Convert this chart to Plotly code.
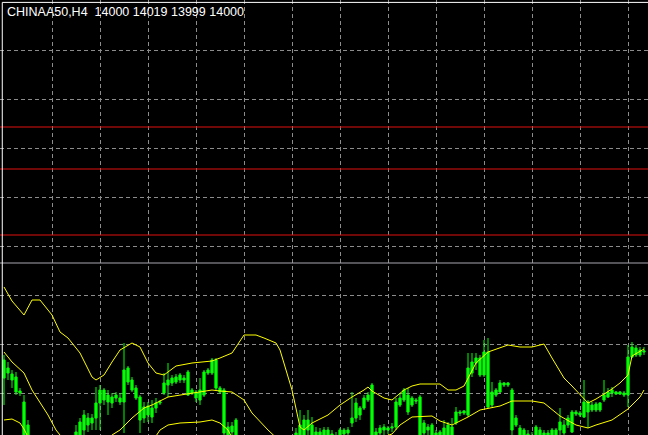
import plotly.graph_objects as go

symbol_title = "CHINAA50,H4  14000 14019 13999 14000"

# candle OHLC (H4 bars, oldest -> newest)
opens = [13992,13979,13978,13975,13961,13950,13927,13904,13897,13887,13874,13877,13867,13860,13867,13876,13884,13897,13907,13914,
         13922,13934,13929,13934,13949,13962,13957,13949,13954,13954,13950,13984,13972,13964,13955,13934,13946,13935,13944,13949,
         13959,13967,13974,13970,13972,13974,13980,13959,13960,13952,13957,13979,13979,13992,13964,13962,13925,13920,13932,13907,
         13892,13882,13872,13864,13862,13857,13852,13855,13862,13867,13874,13884,13894,13904,13912,13932,13922,13927,13920,13912,
         13912,13922,13918,13908,13914,13922,13919,13929,13934,13944,13944,13952,13967,13912,13919,13925,13922,13924,13925,13947,
         13952,13957,13947,13952,13955,13919,13925,13927,13912,13914,13916,13927,13914,13929,13940,13939,13937,13979,13989,13994,
         13977,14000,13947,13957,13960,13969,13967,13962,13927,13924,13922,13918,13916,13912,13922,13919,13916,13912,13912,13922,
         13927,13927,13920,13940,13937,13935,13950,13942,13948,13942,13952,13955,13959,13960,13958,13959,13957,13995,14004,13997,
         14000]
highs = [13997,13990,13982,13980,13964,13957,13932,13912,13902,13892,13887,13882,13872,13874,13882,13892,13902,13914,13927,13934,
         13942,13939,13938,13965,13967,13964,13962,13959,13960,13959,14009,13986,13975,13967,13957,13950,13950,13952,13954,13952,
         13979,13989,13977,13978,13979,13977,13982,13964,13962,13974,13982,13984,13994,13994,13966,13964,13930,13930,13934,13912,
         13897,13887,13877,13872,13867,13862,13864,13872,13877,13884,13892,13902,13912,13924,13942,13937,13942,13935,13925,13924,
         13925,13925,13922,13920,13924,13924,13925,13960,13954,13946,13957,13960,13969,13924,13927,13928,13926,13929,13954,13959,
         13964,13964,13956,13954,13957,13932,13928,13929,13922,13922,13932,13930,13934,13945,13942,13942,13999,13999,13999,13997,
         14012,14014,13970,13964,13972,13970,13970,13964,13937,13927,13924,13922,13920,13927,13925,13922,13922,13924,13924,13944,
         13932,13937,13942,13942,13941,13972,13952,13950,13950,13950,13972,13964,13965,13961,13961,13961,14007,14010,14007,14005,
         14005]
lows = [13947,13972,13964,13957,13956,13902,13892,13884,13874,13864,13862,13857,13847,13852,13857,13867,13877,13887,13900,13907,
        13912,13920,13922,13922,13922,13947,13937,13944,13950,13947,13919,13967,13960,13952,13919,13929,13930,13929,13939,13947,
        13957,13955,13966,13968,13969,13969,13956,13957,13950,13947,13955,13977,13977,13962,13958,13916,13904,13912,13900,13882,
        13870,13857,13852,13847,13842,13840,13844,13849,13854,13860,13867,13877,13887,13897,13904,13907,13916,13907,13902,13906,
        13904,13907,13904,13902,13907,13912,13914,13925,13930,13932,13942,13950,13907,13907,13912,13916,13918,13920,13922,13945,
        13950,13937,13945,13948,13907,13912,13916,13907,13906,13908,13910,13907,13910,13927,13936,13937,13935,13975,13982,13975,
        13975,13944,13945,13955,13959,13965,13965,13917,13925,13907,13906,13902,13900,13907,13910,13907,13912,13907,13907,13912,
        13912,13924,13919,13936,13935,13934,13924,13940,13940,13940,13950,13954,13955,13957,13957,13955,13945,13994,13995,13995,
        13997]
closes = [13974,13984,13972,13960,13959,13907,13902,13892,13882,13872,13882,13862,13857,13870,13877,13886,13897,13907,13920,13930,
          13937,13927,13934,13949,13962,13952,13950,13955,13957,13950,13982,13970,13962,13954,13932,13945,13937,13944,13949,13950,
          13969,13972,13969,13975,13977,13972,13957,13962,13954,13962,13980,13982,13992,13964,13960,13919,13912,13926,13907,13892,
          13877,13867,13860,13854,13850,13847,13859,13867,13872,13880,13887,13897,13907,13919,13927,13912,13932,13912,13910,13920,
          13922,13914,13910,13916,13922,13918,13922,13934,13949,13937,13954,13957,13912,13920,13924,13922,13924,13925,13950,13954,
          13962,13940,13954,13951,13912,13929,13922,13912,13919,13920,13924,13912,13925,13940,13939,13941,13984,13990,13994,13977,
          14000,13945,13960,13962,13969,13967,13969,13922,13934,13912,13912,13908,13906,13925,13914,13912,13919,13922,13922,13930,
          13919,13934,13940,13938,13939,13950,13940,13947,13942,13949,13957,13960,13962,13958,13960,13957,13995,14005,13997,14002,
          14001]
bar_index = list(range(len(closes)))

# Bollinger band readings (bar index, price)
upper_x = [0,2,5,7,9,12,14,16,19,22,23,25,27,29,32,34,36,38,40,43,47,52,54,57,60,63,65,68,69,72,74,75,77,81,84,87,90,91,92,95,
           97,100,102,104,109,111,113,115,118,121,126,129,132,135,137,140,142,145,146,148,152,154,156,157,159,160]
upper_v = [14065,14051,14037,14052,14052,14037,14020,14014,13999,13975,13972,13977,13990,14002,14009,14005,13989,13979,13977,13986,
           13989,13991,13994,13999,14017,14017,14014,14009,14002,13962,13925,13922,13929,13937,13947,13955,13962,13965,13961,13954,
           13952,13962,13966,13968,13968,13962,13962,13966,13989,14000,14007,14005,14005,14008,13994,13974,13966,13954,13949,13953,
           13963,13969,13977,13996,14001,14003]
middle_x = [0,2,5,7,11,13,16,20,24,27,29,32,35,37,41,44,47,49,52,54,57,60,62,66,70,75,80,85,90,97,99,102,107,109,112,116,119,124,
            127,132,135,139,143,146,148,152,156,159,160]
middle_v = [14000,13990,13979,13962,13937,13922,13907,13897,13902,13917,13922,13934,13944,13947,13955,13957,13959,13960,13962,13961,
            13960,13952,13939,13922,13907,13894,13894,13900,13909,13918,13927,13935,13936,13931,13927,13935,13942,13946,13951,13951,
            13949,13936,13927,13924,13927,13932,13943,13955,13962]
lower_x = [0,2,4,5,7,10,15,20,25,30,34,38,39,41,44,47,49,52,54,56,58,62,68,80,90,100,110,120,130,140,150,160]
lower_v = [13932,13933,13929,13923,13907,13882,13862,13852,13867,13887,13907,13916,13922,13927,13929,13930,13930,13932,13929,13922,
           13907,13882,13852,13842,13857,13877,13892,13887,13892,13897,13892,13912]

# horizontal levels drawn on the chart
red_levels = [14225, 14183, 14117]
gray_levels = [14089]

# grid (MT4 pixel grid)
x_grid = list(range(12, 161, 12))
y_grid = [14302, 14253, 14204, 14155, 14106, 14057, 14008, 13959]

fig = go.Figure()
fig.add_trace(go.Candlestick(
    x=bar_index, open=opens, high=highs, low=lows, close=closes,
    increasing=dict(line=dict(color="#00ff00", width=1), fillcolor="#00ff00"),
    decreasing=dict(line=dict(color="#00ff00", width=1), fillcolor="#00ff00"),
    whiskerwidth=0, showlegend=False, hoverinfo="skip"))
for bx, bv in ((upper_x, upper_v), (middle_x, middle_v), (lower_x, lower_v)):
    fig.add_trace(go.Scatter(x=bx, y=bv, mode="lines", line=dict(color="#ffff00", width=1),
                             showlegend=False, hoverinfo="skip"))

shapes = []
for lv in red_levels:
    shapes.append(dict(type="line", xref="paper", x0=0, x1=1, yref="y", y0=lv, y1=lv,
                       line=dict(color="#e01010", width=1), layer="above"))
for lv in gray_levels:
    shapes.append(dict(type="line", xref="paper", x0=0, x1=1, yref="y", y0=lv, y1=lv,
                       line=dict(color="#a8a8b0", width=1), layer="above"))
# chart frame (top and left)
shapes.append(dict(type="line", xref="paper", yref="paper", x0=0.0035, x1=1, y0=0.9945, y1=0.9945,
                   line=dict(color="#ffffff", width=1)))
shapes.append(dict(type="line", xref="paper", yref="paper", x0=0.0035, x1=0.0035, y0=0, y1=0.9945,
                   line=dict(color="#ffffff", width=1)))

fig.update_layout(
    width=648, height=435,
    margin=dict(l=0, r=0, t=0, b=0),
    paper_bgcolor="#000000", plot_bgcolor="#000000",
    boxgap=0.2,
    shapes=shapes,
    annotations=[dict(text=symbol_title, xref="paper", yref="paper", x=5/648, y=1-12/435,
                      xanchor="left", yanchor="middle", showarrow=False,
                      font=dict(family="Liberation Sans, Arial", size=12.5, color="#ffffff"))],
    xaxis=dict(range=[-1, 161], tickvals=x_grid, showticklabels=False, showgrid=True,
               gridcolor="#8c8c8c", griddash="4px,3px", gridwidth=1, zeroline=False,
               rangeslider=dict(visible=False), fixedrange=True),
    yaxis=dict(range=[13917, 14352], tickvals=y_grid, showticklabels=False, showgrid=True,
               gridcolor="#8c8c8c", griddash="4px,3px", gridwidth=1, zeroline=False, fixedrange=True),
)
fig.write_html("out.html", config={"displayModeBar": False},
               post_script="document.body.style.margin='0';document.body.style.background='#000';")
